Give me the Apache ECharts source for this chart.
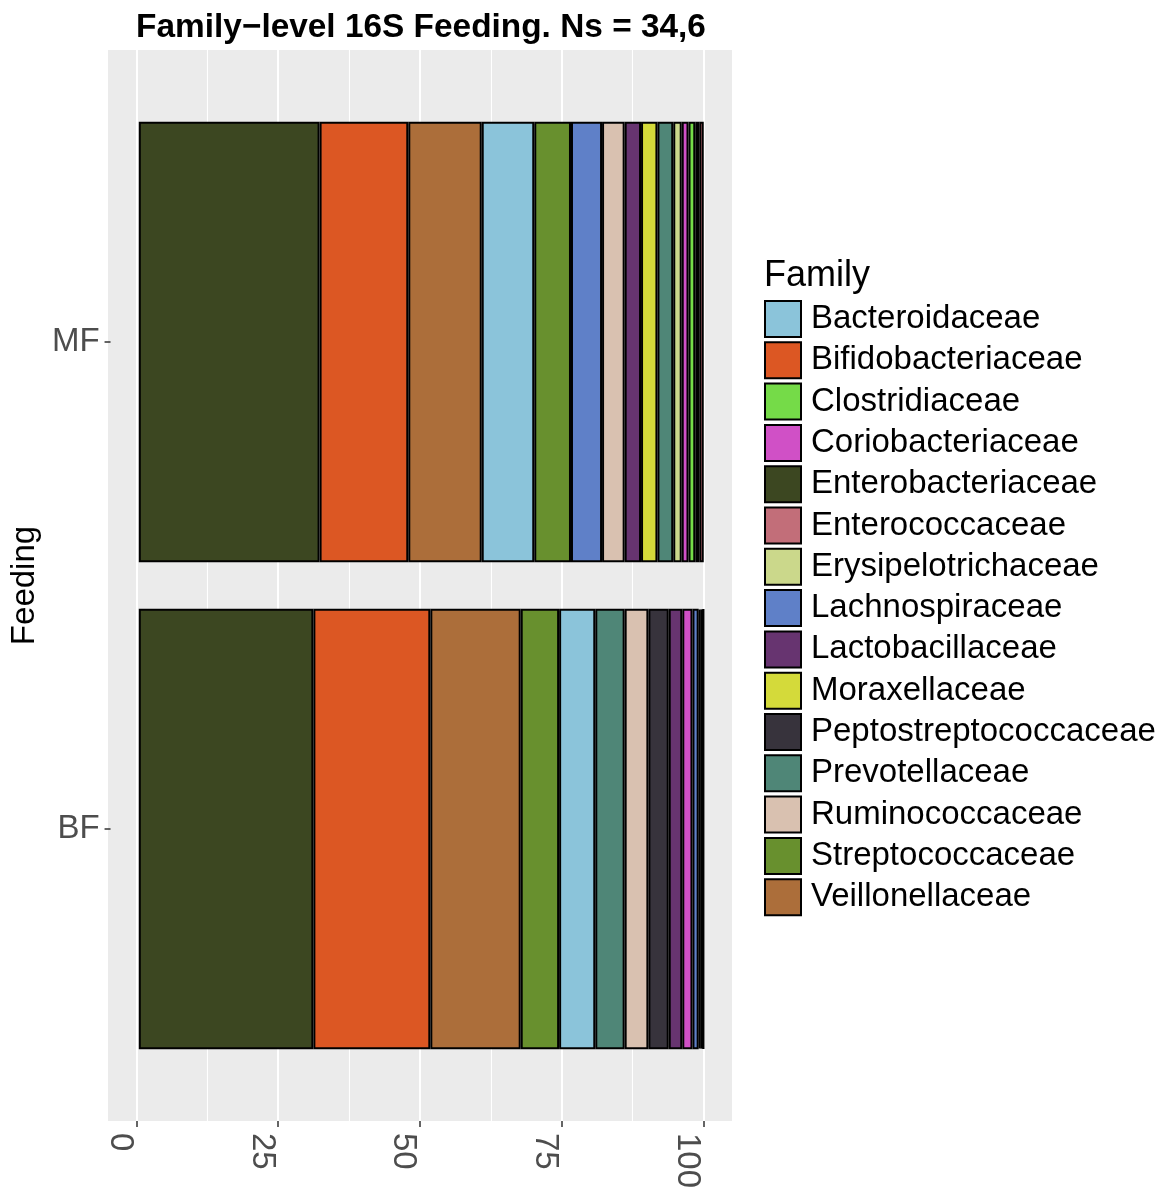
<!DOCTYPE html>
<html>
<head>
<meta charset="utf-8">
<script src="https://cdn.jsdelivr.net/npm/echarts@6/dist/echarts.min.js"></script>
<style>
  html, body { margin: 0; padding: 0; background: #ffffff; }
  #chart { width: 1166px; height: 1191px; }
</style>
</head>
<body>
<div id="chart"></div>
<script>
// Families shown in the legend and their fill colours
const families = ['Bacteroidaceae', 'Bifidobacteriaceae', 'Clostridiaceae', 'Coriobacteriaceae',
  'Enterobacteriaceae', 'Enterococcaceae', 'Erysipelotrichaceae', 'Lachnospiraceae',
  'Lactobacillaceae', 'Moraxellaceae', 'Peptostreptococcaceae', 'Prevotellaceae',
  'Ruminococcaceae', 'Streptococcaceae', 'Veillonellaceae'];
const familyColors = ['#8bc4da', '#dc5723', '#75db48', '#d050c6', '#3c4721', '#c26e79',
  '#cbd88b', '#5f80c8', '#673470', '#d4da3a', '#37333c', '#4f8677', '#d9c1b0', '#68902e', '#ac6e3a'];

// Feeding groups (bottom to top)
const feedingGroups = ['BF', 'MF'];

// Relative abundance (%) per group, stacked left to right in this order
const mfOrder = ['Enterobacteriaceae', 'Bifidobacteriaceae', 'Veillonellaceae', 'Bacteroidaceae',
  'Streptococcaceae', 'Lachnospiraceae', 'Ruminococcaceae', 'Lactobacillaceae', 'Moraxellaceae',
  'Prevotellaceae', 'Erysipelotrichaceae', 'Coriobacteriaceae', 'Clostridiaceae',
  'Peptostreptococcaceae', 'Enterococcaceae'];
const mfValues = [32.0, 15.7, 13.0, 9.3, 6.5, 5.5, 4.0, 2.9, 2.9, 2.8, 1.5, 1.2, 1.2, 0.7, 0.8];

const bfOrder = ['Enterobacteriaceae', 'Bifidobacteriaceae', 'Veillonellaceae', 'Streptococcaceae',
  'Bacteroidaceae', 'Prevotellaceae', 'Ruminococcaceae', 'Peptostreptococcaceae', 'Lactobacillaceae',
  'Coriobacteriaceae', 'Lachnospiraceae', 'Moraxellaceae', 'Enterococcaceae', 'Clostridiaceae',
  'Erysipelotrichaceae'];
const bfValues = [30.9, 20.7, 16.0, 6.8, 6.4, 5.2, 4.2, 3.6, 2.4, 1.8, 1.1, 0.3, 0.3, 0.2, 0.1];

// Axis ticks and grid lines
const xTicks = [0, 25, 50, 75, 100];
const xMinorGrid = [12.5, 37.5, 62.5, 87.5];

const FONT = "'Liberation Sans', Arial, Helvetica, sans-serif";
const colorOf = name => familyColors[families.indexOf(name)];

const chart = echarts.init(document.getElementById('chart'), null, { renderer: 'canvas' });

// One stacked series per stacking position; each bar picks its own family colour
const stackSeries = mfOrder.map((_, i) => ({
  name: 'pos' + i,
  type: 'bar',
  xAxisIndex: 1,
  yAxisIndex: 1,
  stack: 'total',
  barWidth: '90.5%',
  silent: true,
  z: 3,
  data: [
    { value: bfValues[i], itemStyle: { color: colorOf(bfOrder[i]) } },
    { value: mfValues[i], itemStyle: { color: colorOf(mfOrder[i]) } }
  ],
  itemStyle: { borderColor: '#000000', borderWidth: 2 }
}));

// Empty series that only feed the legend
const legendSeries = families.map((f, i) => ({
  name: f,
  type: 'scatter',
  xAxisIndex: 0,
  yAxisIndex: 0,
  data: [],
  itemStyle: { color: familyColors[i], opacity: 1, borderColor: '#000', borderWidth: 2 }
}));

// Panel grid lines
const gridLines = {
  type: 'scatter',
  xAxisIndex: 0,
  yAxisIndex: 0,
  data: [[50, 0.5]],
  symbolSize: 0,
  silent: true,
  z: 1,
  markLine: {
    silent: true,
    z: 1,
    symbol: ['none', 'none'],
    label: { show: false },
    animation: false,
    data: xTicks.map(v => ({ xAxis: v, lineStyle: { color: '#ffffff', width: 2, type: 'solid' } }))
      .concat(xMinorGrid.map(v => ({ xAxis: v, lineStyle: { color: '#ffffff', width: 1.1, type: 'solid' } })))
  }
};

chart.setOption({
  animation: false,
  backgroundColor: '#ffffff',
  textStyle: { fontFamily: FONT },
  title: [
    {
      text: 'Family\u2212level 16S Feeding. Ns = 34,6',
      left: 416,
      textAlign: 'center',
      top: 6,
      textStyle: { fontFamily: FONT, fontWeight: 'bold', fontSize: 33.4, color: '#000' }
    },
    {
      text: 'Family',
      left: 759,
      top: 253,
      textStyle: { fontFamily: FONT, fontWeight: 'normal', fontSize: 36, color: '#000' }
    }
  ],
  legend: {
    data: families,
    orient: 'vertical',
    left: 764,
    top: 300,
    padding: 0,
    icon: 'rect',
    itemWidth: 36,
    itemHeight: 36,
    itemGap: 3.3,
    selectedMode: false,
    itemStyle: { borderColor: '#000', borderWidth: 2, opacity: 1 },
    textStyle: { fontFamily: FONT, fontSize: 33, lineHeight: 36, color: '#000', padding: [0, 0, 0, 5] }
  },
  grid: [
    { left: 108, top: 50, width: 624, height: 1071, show: true, backgroundColor: '#ebebeb', borderWidth: 0 },
    { left: 108, top: 98.5, width: 624, height: 974, show: false }
  ],
  xAxis: [
    {
      type: 'value', gridIndex: 0, min: -5, max: 105,
      splitLine: { show: false },
      axisLine: { show: false, onZero: false },
      axisTick: { show: true, customValues: xTicks, length: 6, lineStyle: { color: '#333', width: 1.5 } },
      axisLabel: {
        customValues: xTicks, rotate: -90, margin: 12, verticalAlign: 'top',
        fontSize: 33, color: '#4d4d4d', fontFamily: FONT
      }
    },
    {
      type: 'value', gridIndex: 1, min: -5, max: 105,
      show: false
    }
  ],
  yAxis: [
    { type: 'value', gridIndex: 0, min: 0, max: 1, show: false },
    {
      type: 'category', gridIndex: 1, data: feedingGroups,
      name: 'Feeding', nameLocation: 'middle', nameRotate: 90, nameGap: 62,
      nameTextStyle: { fontFamily: FONT, fontSize: 33, color: '#000' },
      axisLine: { show: false, onZero: false },
      axisTick: { show: true, alignWithLabel: true, length: 6, lineStyle: { color: '#333', width: 1.5 } },
      axisLabel: { fontSize: 33, color: '#4d4d4d', margin: 11, fontFamily: FONT },
      splitLine: { show: false }
    }
  ],
  series: [gridLines].concat(stackSeries, legendSeries)
});
</script>
</body>
</html>
